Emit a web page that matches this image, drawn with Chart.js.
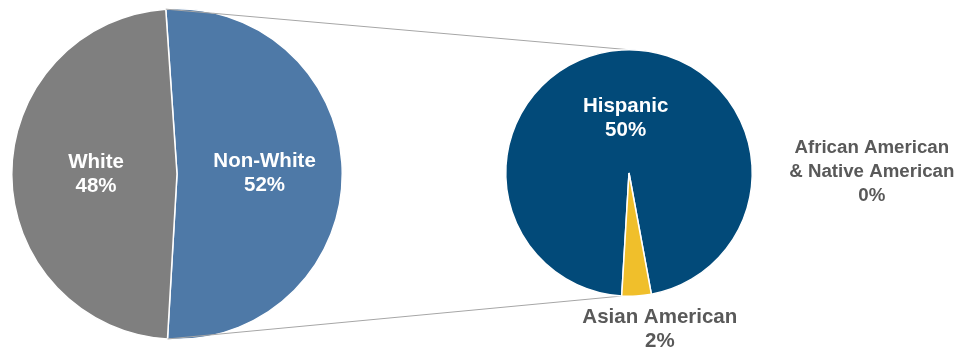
<!DOCTYPE html>
<html>
<head>
<meta charset="utf-8">
<script src="https://cdn.jsdelivr.net/npm/chart.js@4/dist/chart.umd.min.js"></script>
<style>
    body { margin: 0; background: #ffffff; }
    #contenedor { position: relative; width: 958px; height: 350px; }
    .capa { position: absolute; left: 0; top: 0; width: 958px; height: 350px; }
</style>
</head>
<body>
<div id="contenedor">
    <div class="capa"><canvas id="grafica-total"></canvas></div>
    <div class="capa"><canvas id="grafica-detalle"></canvas></div>
</div>
<script>
// datos
const totalEtiquetas = ["Non-White", "White"];
const totalValores = [52, 48];
const detalleEtiquetas = ["Hispanic", "Asian American", ["African American", "& Native American"]];
const detalleValores = [50, 2, 0];

const colorTexto = "#595959";
const familia = "'Liberation Sans', Arial, sans-serif";

// etiquetas de cada porción (dentro en blanco o fuera en gris)
const etiquetas = {
    id: "etiquetas",
    afterDatasetsDraw(chart, args, opts) {
        const ctx = chart.ctx;
        const meta = chart.getDatasetMeta(0);
        const valores = chart.data.datasets[0].data;
        ctx.save();
        ctx.textAlign = "center";
        ctx.textBaseline = "middle";
        meta.data.forEach((arco, i) => {
            const lineas = [].concat(chart.data.labels[i], valores[i] + "%");
            const fuera = opts.fuera && opts.fuera[i];
            const tam = (opts.tamano && opts.tamano[i]) || 20.5;
            const alto = 24;
            let x, y;
            if (fuera) {
                x = arco.x + fuera[0] * arco.outerRadius;
                y = arco.y + fuera[1] * arco.outerRadius;
                ctx.fillStyle = colorTexto;
            } else {
                const medio = (arco.startAngle + arco.endAngle) / 2;
                const r = ((opts.radio && opts.radio[i]) || 0.5) * arco.outerRadius;
                x = arco.x + Math.cos(medio) * r;
                y = arco.y + Math.sin(medio) * r;
                ctx.fillStyle = "#ffffff";
            }
            ctx.font = "bold " + tam + "px " + familia;
            const y0 = y - (lineas.length - 1) * alto / 2;
            lineas.forEach((texto, j) => ctx.fillText(texto, x, y0 + j * alto));
        });
        ctx.restore();
    }
};

let graficaTotal;

// líneas que unen la porción Non-White con la segunda tarta
const conectores = {
    id: "conectores",
    beforeDatasetsDraw(chart) {
        const izq = graficaTotal.getDatasetMeta(0).data[0];
        const der = chart.getDatasetMeta(0).data;
        const punto = (arco, angulo) => [arco.x + Math.cos(angulo) * arco.outerRadius, arco.y + Math.sin(angulo) * arco.outerRadius];
        const a1 = punto(izq, izq.startAngle);
        const a2 = punto(izq, izq.endAngle);
        const b1 = punto(der[0], -Math.PI / 2);
        const b2 = punto(der[1], der[1].endAngle);
        const ctx = chart.ctx;
        ctx.save();
        ctx.strokeStyle = "#a6a6a6";
        ctx.lineWidth = 1;
        ctx.beginPath();
        ctx.moveTo(a1[0], a1[1]);
        ctx.lineTo(b1[0], b1[1]);
        ctx.moveTo(a2[0], a2[1]);
        ctx.lineTo(b2[0], b2[1]);
        ctx.stroke();
        ctx.restore();
    }
};

const opcionesBase = {
    responsive: true,
    maintainAspectRatio: false,
    animation: false,
    events: [],
    plugins: {
        legend: { display: false },
        tooltip: { enabled: false }
    }
};

graficaTotal = new Chart(document.getElementById("grafica-total"), {
    type: "pie",
    data: {
        labels: totalEtiquetas,
        datasets: [{
            data: totalValores,
            backgroundColor: ["#4e79a7", "#7f7f7f"],
            borderColor: "#ffffff",
            borderWidth: 1.5
        }]
    },
    options: {
        ...opcionesBase,
        rotation: -3.9,
        layout: { padding: { left: 11, right: 615, top: 8, bottom: 10 } },
        plugins: { ...opcionesBase.plugins, etiquetas: { radio: [0.53, 0.49] } }
    },
    plugins: [etiquetas]
});

new Chart(document.getElementById("grafica-detalle"), {
    type: "pie",
    data: {
        labels: detalleEtiquetas,
        datasets: [{
            data: detalleValores,
            backgroundColor: ["#024a79", "#f0bf2b", "#7f7f7f"],
            borderColor: "#ffffff",
            borderWidth: 1.5
        }]
    },
    options: {
        ...opcionesBase,
        rotation: 183.4,
        layout: { padding: { left: 505, right: 205, top: 49, bottom: 53 } },
        plugins: {
            ...opcionesBase.plugins,
            etiquetas: {
                radio: [0.445],
                tamano: [20.5, 20.5, 18.7],
                fuera: [null, [0.25, 1.27], [1.97, -0.01]]
            }
        }
    },
    plugins: [conectores, etiquetas]
});
</script>
</body>
</html>
